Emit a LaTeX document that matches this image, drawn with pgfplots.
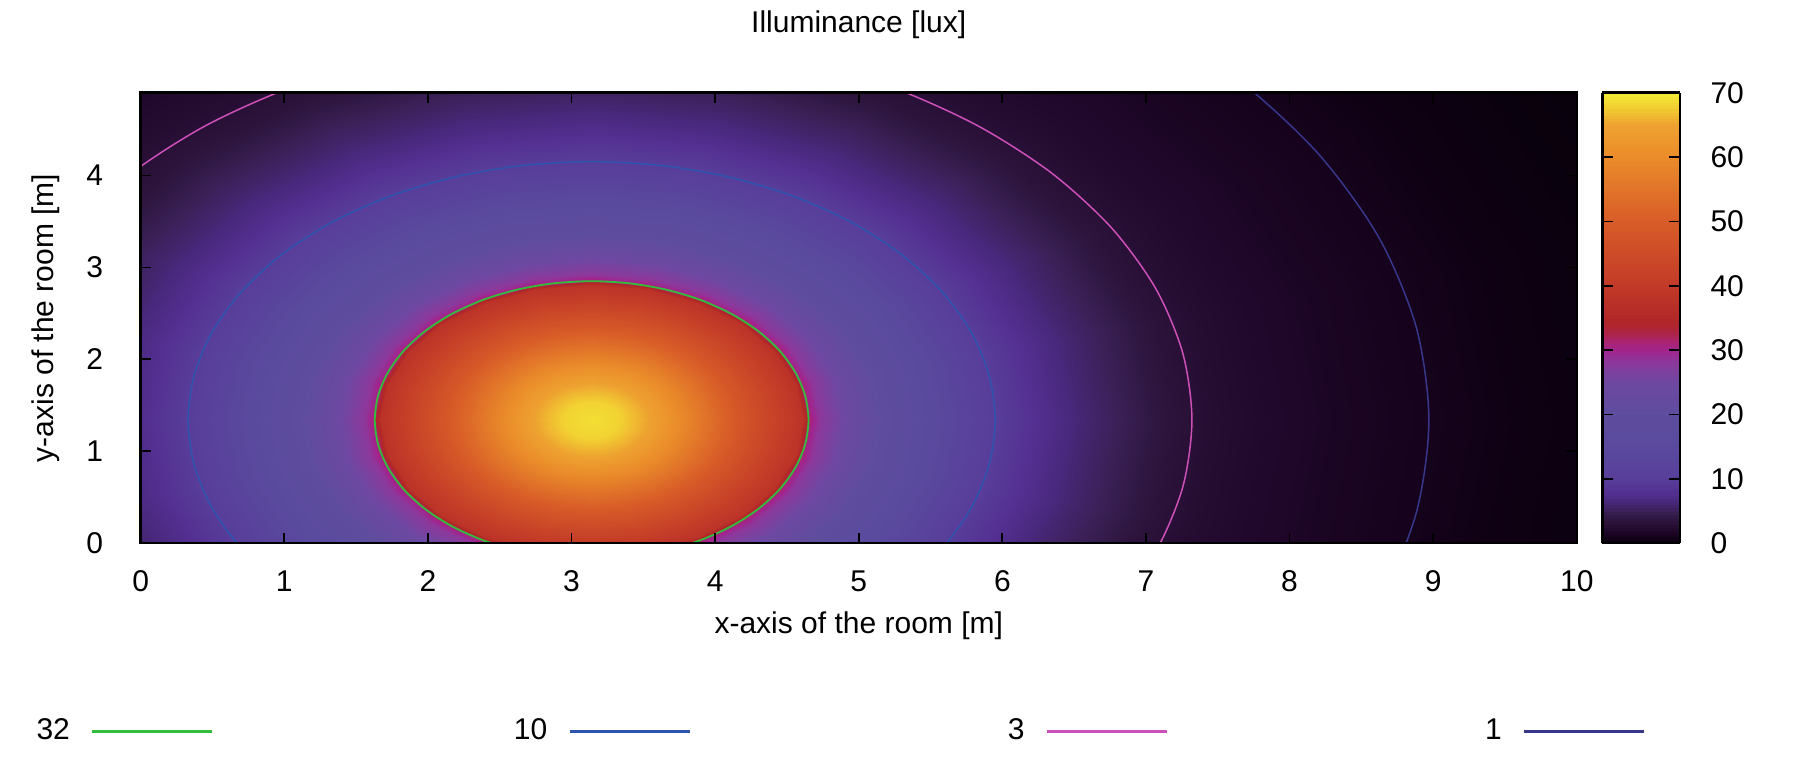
\documentclass[border=0pt]{standalone}
\usepackage{pgfplots}
\pgfplotsset{compat=1.18}
\usepackage{fontspec}
\setmainfont{Liberation Sans}
\definecolor{cgreen}{RGB}{50,190,60}
\definecolor{cblue}{RGB}{45,85,175}
\definecolor{cpink}{RGB}{205,80,185}
\definecolor{cdark}{RGB}{55,55,140}
\pgfplotsset{
  colormap={illum}{rgb255(0pt)=(3,0,5) rgb255(2pt)=(22,2,28) rgb255(4pt)=(32,8,44) rgb255(6pt)=(40,16,54) rgb255(8pt)=(48,24,68) rgb255(10pt)=(58,32,86) rgb255(13pt)=(72,40,124) rgb255(16pt)=(84,48,146) rgb255(20pt)=(88,62,154) rgb255(30pt)=(90,74,158) rgb255(40pt)=(94,77,158) rgb255(50pt)=(110,72,162) rgb255(56pt)=(138,58,156) rgb255(60pt)=(162,36,142) rgb255(63pt)=(170,36,110) rgb255(66pt)=(174,36,60) rgb255(69pt)=(176,38,40) rgb255(80pt)=(194,58,40) rgb255(100pt)=(216,92,40) rgb255(120pt)=(234,140,42) rgb255(130pt)=(238,162,48) rgb255(136pt)=(242,210,50) rgb255(140pt)=(244,236,52)},
  /pgf/number format/assume math mode=true,
}
\newcommand{\lfont}{\fontsize{10}{12}\selectfont}
\begin{document}
\begin{tikzpicture}
\path[use as bounding box] (-46.9pt,-74.6pt) rectangle (553.1pt,181.1pt);
% data axis: polar coordinates around the lamp at (3.14, 1.34)
\begin{axis}[
  scale only axis, width=478.7pt, height=150.2pt,
  xmin=-3.14, xmax=6.86, ymin=-1.34, ymax=3.56,
  view={0}{90}, hide axis,
  colormap name=illum, point meta min=0, point meta max=70,
]
\addplot3[surf, shader=interp, data cs=polar, mesh/rows=27, mesh/cols=25]
table[row sep=\\, x=a, y=r, z=z]{
a r z\\
0 0 69\\15 0 69\\30 0 69\\45 0 69\\60 0 69\\75 0 69\\90 0 69\\105 0 69\\120 0 69\\135 0 69\\150 0 69\\165 0 69\\180 0 69\\195 0 69\\210 0 69\\225 0 69\\240 0 69\\255 0 69\\270 0 69\\285 0 69\\300 0 69\\315 0 69\\330 0 69\\345 0 69\\360 0 69\\
0 0.2 68\\15 0.2 68\\30 0.2 68\\45 0.2 68\\60 0.2 68\\75 0.2 68\\90 0.2 68\\105 0.2 68\\120 0.2 68\\135 0.2 68\\150 0.2 68\\165 0.2 68\\180 0.2 68\\195 0.2 68\\210 0.2 68\\225 0.2 68\\240 0.2 68\\255 0.2 68\\270 0.2 68\\285 0.2 68\\300 0.2 68\\315 0.2 68\\330 0.2 68\\345 0.2 68\\360 0.2 68\\
0 0.4 65\\15 0.4 65\\30 0.4 65\\45 0.4 65\\60 0.4 65\\75 0.4 65\\90 0.4 65\\105 0.4 65\\120 0.4 65\\135 0.4 65\\150 0.4 65\\165 0.4 65\\180 0.4 65\\195 0.4 65\\210 0.4 65\\225 0.4 65\\240 0.4 65\\255 0.4 65\\270 0.4 65\\285 0.4 65\\300 0.4 65\\315 0.4 65\\330 0.4 65\\345 0.4 65\\360 0.4 65\\
0 0.6 60\\15 0.6 60\\30 0.6 60\\45 0.6 60\\60 0.6 60\\75 0.6 60\\90 0.6 60\\105 0.6 60\\120 0.6 60\\135 0.6 60\\150 0.6 60\\165 0.6 60\\180 0.6 60\\195 0.6 60\\210 0.6 60\\225 0.6 60\\240 0.6 60\\255 0.6 60\\270 0.6 60\\285 0.6 60\\300 0.6 60\\315 0.6 60\\330 0.6 60\\345 0.6 60\\360 0.6 60\\
0 0.8 54.5\\15 0.8 54.5\\30 0.8 54.5\\45 0.8 54.5\\60 0.8 54.5\\75 0.8 54.5\\90 0.8 54.5\\105 0.8 54.5\\120 0.8 54.5\\135 0.8 54.5\\150 0.8 54.5\\165 0.8 54.5\\180 0.8 54.5\\195 0.8 54.5\\210 0.8 54.5\\225 0.8 54.5\\240 0.8 54.5\\255 0.8 54.5\\270 0.8 54.5\\285 0.8 54.5\\300 0.8 54.5\\315 0.8 54.5\\330 0.8 54.5\\345 0.8 54.5\\360 0.8 54.5\\
0 1 49\\15 1 49\\30 1 49\\45 1 49\\60 1 49\\75 1 49\\90 1 49\\105 1 49\\120 1 49\\135 1 49\\150 1 49\\165 1 49\\180 1 49\\195 1 49\\210 1 49\\225 1 49\\240 1 49\\255 1 49\\270 1 49\\285 1 49\\300 1 49\\315 1 49\\330 1 49\\345 1 49\\360 1 49\\
0 1.2 44\\15 1.2 44\\30 1.2 44\\45 1.2 44\\60 1.2 44\\75 1.2 44\\90 1.2 44\\105 1.2 44\\120 1.2 44\\135 1.2 44\\150 1.2 44\\165 1.2 44\\180 1.2 44\\195 1.2 44\\210 1.2 44\\225 1.2 44\\240 1.2 44\\255 1.2 44\\270 1.2 44\\285 1.2 44\\300 1.2 44\\315 1.2 44\\330 1.2 44\\345 1.2 44\\360 1.2 44\\
0 1.35 40.5\\15 1.35 40.5\\30 1.35 40.5\\45 1.35 40.5\\60 1.35 40.5\\75 1.35 40.5\\90 1.35 40.5\\105 1.35 40.5\\120 1.35 40.5\\135 1.35 40.5\\150 1.35 40.5\\165 1.35 40.5\\180 1.35 40.5\\195 1.35 40.5\\210 1.35 40.5\\225 1.35 40.5\\240 1.35 40.5\\255 1.35 40.5\\270 1.35 40.5\\285 1.35 40.5\\300 1.35 40.5\\315 1.35 40.5\\330 1.35 40.5\\345 1.35 40.5\\360 1.35 40.5\\
0 1.47 38\\15 1.47 38\\30 1.47 38\\45 1.47 38\\60 1.47 38\\75 1.47 38\\90 1.47 38\\105 1.47 38\\120 1.47 38\\135 1.47 38\\150 1.47 38\\165 1.47 38\\180 1.47 38\\195 1.47 38\\210 1.47 38\\225 1.47 38\\240 1.47 38\\255 1.47 38\\270 1.47 38\\285 1.47 38\\300 1.47 38\\315 1.47 38\\330 1.47 38\\345 1.47 38\\360 1.47 38\\
0 1.52 31\\15 1.52 31\\30 1.52 31\\45 1.52 31\\60 1.52 31\\75 1.52 31\\90 1.52 31\\105 1.52 31\\120 1.52 31\\135 1.52 31\\150 1.52 31\\165 1.52 31\\180 1.52 31\\195 1.52 31\\210 1.52 31\\225 1.52 31\\240 1.52 31\\255 1.52 31\\270 1.52 31\\285 1.52 31\\300 1.52 31\\315 1.52 31\\330 1.52 31\\345 1.52 31\\360 1.52 31\\
0 1.58 28.5\\15 1.58 28.5\\30 1.58 28.5\\45 1.58 28.5\\60 1.58 28.5\\75 1.58 28.5\\90 1.58 28.5\\105 1.58 28.5\\120 1.58 28.5\\135 1.58 28.5\\150 1.58 28.5\\165 1.58 28.5\\180 1.58 28.5\\195 1.58 28.5\\210 1.58 28.5\\225 1.58 28.5\\240 1.58 28.5\\255 1.58 28.5\\270 1.58 28.5\\285 1.58 28.5\\300 1.58 28.5\\315 1.58 28.5\\330 1.58 28.5\\345 1.58 28.5\\360 1.58 28.5\\
0 1.75 25\\15 1.75 25\\30 1.75 25\\45 1.75 25\\60 1.75 25\\75 1.75 25\\90 1.75 25\\105 1.75 25\\120 1.75 25\\135 1.75 25\\150 1.75 25\\165 1.75 25\\180 1.75 25\\195 1.75 25\\210 1.75 25\\225 1.75 25\\240 1.75 25\\255 1.75 25\\270 1.75 25\\285 1.75 25\\300 1.75 25\\315 1.75 25\\330 1.75 25\\345 1.75 25\\360 1.75 25\\
0 2 20.5\\15 2 20.5\\30 2 20.5\\45 2 20.5\\60 2 20.5\\75 2 20.5\\90 2 20.5\\105 2 20.5\\120 2 20.5\\135 2 20.5\\150 2 20.5\\165 2 20.5\\180 2 20.5\\195 2 20.5\\210 2 20.5\\225 2 20.5\\240 2 20.5\\255 2 20.5\\270 2 20.5\\285 2 20.5\\300 2 20.5\\315 2 20.5\\330 2 20.5\\345 2 20.5\\360 2 20.5\\
0 2.3 16\\15 2.3 16\\30 2.3 16\\45 2.3 16\\60 2.3 16\\75 2.3 16\\90 2.3 16\\105 2.3 16\\120 2.3 16\\135 2.3 16\\150 2.3 16\\165 2.3 16\\180 2.3 16\\195 2.3 16\\210 2.3 16\\225 2.3 16\\240 2.3 16\\255 2.3 16\\270 2.3 16\\285 2.3 16\\300 2.3 16\\315 2.3 16\\330 2.3 16\\345 2.3 16\\360 2.3 16\\
0 2.6 12.2\\15 2.6 12.2\\30 2.6 12.2\\45 2.6 12.2\\60 2.6 12.2\\75 2.6 12.2\\90 2.6 12.2\\105 2.6 12.2\\120 2.6 12.2\\135 2.6 12.2\\150 2.6 12.2\\165 2.6 12.2\\180 2.6 12.2\\195 2.6 12.2\\210 2.6 12.2\\225 2.6 12.2\\240 2.6 12.2\\255 2.6 12.2\\270 2.6 12.2\\285 2.6 12.2\\300 2.6 12.2\\315 2.6 12.2\\330 2.6 12.2\\345 2.6 12.2\\360 2.6 12.2\\
0 2.81 10\\15 2.81 10\\30 2.81 10\\45 2.81 10\\60 2.81 10\\75 2.81 10\\90 2.81 10\\105 2.81 10\\120 2.81 10\\135 2.81 10\\150 2.81 10\\165 2.81 10\\180 2.81 10\\195 2.81 10\\210 2.81 10\\225 2.81 10\\240 2.81 10\\255 2.81 10\\270 2.81 10\\285 2.81 10\\300 2.81 10\\315 2.81 10\\330 2.81 10\\345 2.81 10\\360 2.81 10\\
0 3.1 7.9\\15 3.1 7.9\\30 3.1 7.9\\45 3.1 7.9\\60 3.1 7.9\\75 3.1 7.9\\90 3.1 7.9\\105 3.1 7.9\\120 3.1 7.9\\135 3.1 7.9\\150 3.1 7.9\\165 3.1 7.9\\180 3.1 7.9\\195 3.1 7.9\\210 3.1 7.9\\225 3.1 7.9\\240 3.1 7.9\\255 3.1 7.9\\270 3.1 7.9\\285 3.1 7.9\\300 3.1 7.9\\315 3.1 7.9\\330 3.1 7.9\\345 3.1 7.9\\360 3.1 7.9\\
0 3.4 6.2\\15 3.4 6.2\\30 3.4 6.2\\45 3.4 6.2\\60 3.4 6.2\\75 3.4 6.2\\90 3.4 6.2\\105 3.4 6.2\\120 3.4 6.2\\135 3.4 6.2\\150 3.4 6.2\\165 3.4 6.2\\180 3.4 6.2\\195 3.4 6.2\\210 3.4 6.2\\225 3.4 6.2\\240 3.4 6.2\\255 3.4 6.2\\270 3.4 6.2\\285 3.4 6.2\\300 3.4 6.2\\315 3.4 6.2\\330 3.4 6.2\\345 3.4 6.2\\360 3.4 6.2\\
0 3.7 4.9\\15 3.7 4.9\\30 3.7 4.9\\45 3.7 4.9\\60 3.7 4.9\\75 3.7 4.9\\90 3.7 4.9\\105 3.7 4.9\\120 3.7 4.9\\135 3.7 4.9\\150 3.7 4.9\\165 3.7 4.9\\180 3.7 4.9\\195 3.7 4.9\\210 3.7 4.9\\225 3.7 4.9\\240 3.7 4.9\\255 3.7 4.9\\270 3.7 4.9\\285 3.7 4.9\\300 3.7 4.9\\315 3.7 4.9\\330 3.7 4.9\\345 3.7 4.9\\360 3.7 4.9\\
0 4 3.5\\15 4 3.5\\30 4 3.5\\45 4 3.5\\60 4 3.5\\75 4 3.5\\90 4 3.5\\105 4 3.5\\120 4 3.5\\135 4 3.5\\150 4 3.5\\165 4 3.5\\180 4 3.5\\195 4 3.5\\210 4 3.5\\225 4 3.5\\240 4 3.5\\255 4 3.5\\270 4 3.5\\285 4 3.5\\300 4 3.5\\315 4 3.5\\330 4 3.5\\345 4 3.5\\360 4 3.5\\
0 4.3 2.7\\15 4.3 2.7\\30 4.3 2.7\\45 4.3 2.7\\60 4.3 2.7\\75 4.3 2.7\\90 4.3 2.7\\105 4.3 2.7\\120 4.3 2.7\\135 4.3 2.7\\150 4.3 2.7\\165 4.3 2.7\\180 4.3 2.7\\195 4.3 2.7\\210 4.3 2.7\\225 4.3 2.7\\240 4.3 2.7\\255 4.3 2.7\\270 4.3 2.7\\285 4.3 2.7\\300 4.3 2.7\\315 4.3 2.7\\330 4.3 2.7\\345 4.3 2.7\\360 4.3 2.7\\
0 4.7 2.05\\15 4.7 2.05\\30 4.7 2.05\\45 4.7 2.05\\60 4.7 2.05\\75 4.7 2.05\\90 4.7 2.05\\105 4.7 2.05\\120 4.7 2.05\\135 4.7 2.05\\150 4.7 2.05\\165 4.7 2.05\\180 4.7 2.05\\195 4.7 2.05\\210 4.7 2.05\\225 4.7 2.05\\240 4.7 2.05\\255 4.7 2.05\\270 4.7 2.05\\285 4.7 2.05\\300 4.7 2.05\\315 4.7 2.05\\330 4.7 2.05\\345 4.7 2.05\\360 4.7 2.05\\
0 5.2 1.5\\15 5.2 1.5\\30 5.2 1.5\\45 5.2 1.5\\60 5.2 1.5\\75 5.2 1.5\\90 5.2 1.5\\105 5.2 1.5\\120 5.2 1.5\\135 5.2 1.5\\150 5.2 1.5\\165 5.2 1.5\\180 5.2 1.5\\195 5.2 1.5\\210 5.2 1.5\\225 5.2 1.5\\240 5.2 1.5\\255 5.2 1.5\\270 5.2 1.5\\285 5.2 1.5\\300 5.2 1.5\\315 5.2 1.5\\330 5.2 1.5\\345 5.2 1.5\\360 5.2 1.5\\
0 5.83 1\\15 5.83 1\\30 5.83 1\\45 5.83 1\\60 5.83 1\\75 5.83 1\\90 5.83 1\\105 5.83 1\\120 5.83 1\\135 5.83 1\\150 5.83 1\\165 5.83 1\\180 5.83 1\\195 5.83 1\\210 5.83 1\\225 5.83 1\\240 5.83 1\\255 5.83 1\\270 5.83 1\\285 5.83 1\\300 5.83 1\\315 5.83 1\\330 5.83 1\\345 5.83 1\\360 5.83 1\\
0 6.5 0.6\\15 6.5 0.6\\30 6.5 0.6\\45 6.5 0.6\\60 6.5 0.6\\75 6.5 0.6\\90 6.5 0.6\\105 6.5 0.6\\120 6.5 0.6\\135 6.5 0.6\\150 6.5 0.6\\165 6.5 0.6\\180 6.5 0.6\\195 6.5 0.6\\210 6.5 0.6\\225 6.5 0.6\\240 6.5 0.6\\255 6.5 0.6\\270 6.5 0.6\\285 6.5 0.6\\300 6.5 0.6\\315 6.5 0.6\\330 6.5 0.6\\345 6.5 0.6\\360 6.5 0.6\\
0 7.2 0.4\\15 7.2 0.4\\30 7.2 0.4\\45 7.2 0.4\\60 7.2 0.4\\75 7.2 0.4\\90 7.2 0.4\\105 7.2 0.4\\120 7.2 0.4\\135 7.2 0.4\\150 7.2 0.4\\165 7.2 0.4\\180 7.2 0.4\\195 7.2 0.4\\210 7.2 0.4\\225 7.2 0.4\\240 7.2 0.4\\255 7.2 0.4\\270 7.2 0.4\\285 7.2 0.4\\300 7.2 0.4\\315 7.2 0.4\\330 7.2 0.4\\345 7.2 0.4\\360 7.2 0.4\\
0 8 0.25\\15 8 0.25\\30 8 0.25\\45 8 0.25\\60 8 0.25\\75 8 0.25\\90 8 0.25\\105 8 0.25\\120 8 0.25\\135 8 0.25\\150 8 0.25\\165 8 0.25\\180 8 0.25\\195 8 0.25\\210 8 0.25\\225 8 0.25\\240 8 0.25\\255 8 0.25\\270 8 0.25\\285 8 0.25\\300 8 0.25\\315 8 0.25\\330 8 0.25\\345 8 0.25\\360 8 0.25\\
};
% contour lines 32, 10, 3, 1 lux (start and end below the floor, out of view)
\addplot[cgreen, line width=0.6pt, smooth, data cs=polar] coordinates {(-90,1.51)(-80,1.51)(-70,1.51)(-60,1.51)(-50,1.51)(-40,1.51)(-30,1.51)(-20,1.51)(-10,1.51)(0,1.51)(10,1.51)(20,1.51)(30,1.51)(40,1.51)(50,1.51)(60,1.51)(70,1.51)(80,1.51)(90,1.51)(100,1.51)(110,1.51)(120,1.51)(130,1.51)(140,1.51)(150,1.51)(160,1.51)(170,1.51)(180,1.51)(190,1.51)(200,1.51)(210,1.51)(220,1.51)(230,1.51)(240,1.51)(250,1.51)(260,1.51)(270,1.51)};
\addplot[cblue, line width=0.5pt, smooth, data cs=polar] coordinates {(-90,2.81)(-80,2.81)(-70,2.81)(-60,2.81)(-50,2.81)(-40,2.81)(-30,2.81)(-20,2.81)(-10,2.81)(0,2.81)(10,2.81)(20,2.81)(30,2.81)(40,2.81)(50,2.81)(60,2.81)(70,2.81)(80,2.81)(90,2.81)(100,2.81)(110,2.81)(120,2.81)(130,2.81)(140,2.81)(150,2.81)(160,2.81)(170,2.81)(180,2.81)(190,2.81)(200,2.81)(210,2.81)(220,2.81)(230,2.81)(240,2.81)(250,2.81)(260,2.81)(270,2.81)};
\addplot[cpink, line width=0.5pt, smooth, data cs=polar] coordinates {(-90,4.18)(-80,4.18)(-70,4.18)(-60,4.18)(-50,4.18)(-40,4.18)(-30,4.18)(-20,4.18)(-10,4.18)(0,4.18)(10,4.18)(20,4.18)(30,4.18)(40,4.18)(50,4.18)(60,4.18)(70,4.18)(80,4.18)(90,4.18)(100,4.18)(110,4.18)(120,4.18)(130,4.18)(140,4.18)(150,4.18)(160,4.18)(170,4.18)(180,4.18)(190,4.18)(200,4.18)(210,4.18)(220,4.18)(230,4.18)(240,4.18)(250,4.18)(260,4.18)(270,4.18)};
\addplot[cdark, line width=0.5pt, smooth, data cs=polar] coordinates {(-90,5.83)(-80,5.83)(-70,5.83)(-60,5.83)(-50,5.83)(-40,5.83)(-30,5.83)(-20,5.83)(-10,5.83)(0,5.83)(10,5.83)(20,5.83)(30,5.83)(40,5.83)(50,5.83)(60,5.83)(70,5.83)(80,5.83)(90,5.83)(100,5.83)(110,5.83)(120,5.83)(130,5.83)(140,5.83)(150,5.83)(160,5.83)(170,5.83)(180,5.83)(190,5.83)(200,5.83)(210,5.83)(220,5.83)(230,5.83)(240,5.83)(250,5.83)(260,5.83)(270,5.83)};
\end{axis}
% frame axis with ticks, labels, colorbar and legend
\begin{axis}[
  scale only axis, width=478.7pt, height=150.2pt,
  xmin=0, xmax=10, ymin=0, ymax=4.9,
  xtick={0,1,...,10}, ytick={0,1,2,3,4},
  tick align=inside, major tick length=3.5pt,
  every tick/.style={black, line width=0.6pt},
  axis line style={black, line width=0.8pt},
  tick label style={font=\lfont},
  xticklabel style={yshift=-5.7pt},
  yticklabel style={xshift=-9pt},
  title={Illuminance [lux]},
  title style={at={(0.5,1.111)}, anchor=center, font=\lfont},
  xlabel={x-axis of the room [m]},
  xlabel style={at={(0.5,-0.184)}, anchor=center, font=\lfont},
  ylabel={y-axis of the room [m]},
  ylabel style={at={(-0.066,0.5)}, anchor=center, font=\lfont},
  colorbar sampled, colormap name=illum, point meta min=0, point meta max=70,
  colorbar style={
    width=25.8pt, at={([xshift=11.3pt]parent axis.north east)}, anchor=north west,
    samples=141, shader=flat,
    ytick={0,10,...,70}, ytick pos=both, yticklabel pos=right,
    tick align=inside, major tick length=3.5pt,
    every tick/.style={black, line width=0.6pt},
    axis line style={black, line width=0.8pt},
    yticklabel style={xshift=6.7pt, font=\lfont},
  },
  legend columns=4, legend plot pos=right,
  legend image code/.code={\draw[#1] (0pt,0pt) -- (40pt,0pt);},
  legend style={draw=none, fill=none, at={(0,0)}, anchor=west,
    xshift=-41.8pt, yshift=-62.6pt, inner sep=0pt, font=\lfont,
    /tikz/every odd column/.append style={column sep=5pt},
    /tikz/every even column/.append style={column sep=93.1pt}},
]
\addlegendimage{cgreen, line width=1pt}
\addlegendentry{\makebox[16pt][r]{32}}
\addlegendimage{cblue, line width=1pt}
\addlegendentry{\makebox[16pt][r]{10}}
\addlegendimage{cpink, line width=1pt}
\addlegendentry{\makebox[16pt][r]{3}}
\addlegendimage{cdark, line width=1pt}
\addlegendentry{\makebox[16pt][r]{1}}
\end{axis}
\end{tikzpicture}
\end{document}
